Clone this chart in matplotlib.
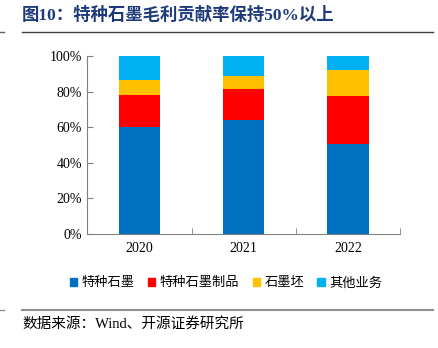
import numpy as np
import matplotlib.pyplot as plt
from matplotlib.lines import Line2D

plt.rcParams['font.family'] = ['Liberation Serif', 'Noto Sans CJK SC']

years = ['2020', '2021', '2022']
series_names = ['特种石墨', '特种石墨制品', '石墨坯', '其他业务']
special_graphite = [60.0, 64.0, 50.5]
graphite_products = [18.2, 17.8, 27.2]
graphite_blank = [8.6, 7.1, 14.4]
other_business = [13.2, 11.1, 7.9]
colors = ['#0070C0', '#FF0000', '#FFC000', '#00B0F0']

fig = plt.figure(figsize=(4.39, 3.48), dpi=100)
ax = fig.add_axes([0.199, 0.3276, 0.712, 0.5104])

x = np.arange(len(years))
bottom = np.zeros(len(years))
for vals, c, name in zip([special_graphite, graphite_products, graphite_blank, other_business],
                         colors, series_names):
    ax.bar(x, vals, 0.4, bottom=bottom, color=c, label=name)
    bottom += np.array(vals)

ax.set_xlim(-0.5, 2.5)
ax.set_ylim(0, 100)
ax.set_yticks(np.arange(0, 101, 20))
ax.set_yticklabels([f'{v}%' for v in range(0, 101, 20)], fontsize=10)
ax.set_xticks(x)
ax.set_xticklabels(years, fontsize=10)
ax.tick_params(axis='x', length=0, pad=6)
ax.tick_params(axis='y', direction='in', length=4, color='#808080', pad=4)
# ticks between categories
ax.set_xticks([-0.5, 0.5, 1.5, 2.5], minor=True)
ax.tick_params(axis='x', which='minor', direction='in', length=4, color='#808080')
for s in ['top', 'right']:
    ax.spines[s].set_visible(False)
for s in ['left', 'bottom']:
    ax.spines[s].set_color('#808080')
    ax.spines[s].set_linewidth(0.8)

handles = [plt.Rectangle((0, 0), 1, 1, color=c) for c in colors]
fig.legend(handles, series_names, loc='center', bbox_to_anchor=(0.515, 0.187), ncol=4,
           frameon=False, handlelength=0.55, handleheight=0.55,
           handletextpad=0.35, columnspacing=1.0, prop={'family': 'Noto Sans CJK SC', 'size': 9.5})

fig.text(0.05, 0.955, '图10：特种石墨毛利贡献率保持50%以上', fontsize=12.5, fontweight='bold',
         color='#1F3A7A', va='center', family=['Liberation Serif', 'Noto Sans CJK SC'])
fig.add_artist(Line2D([0.05, 0.987], [0.907, 0.907], color='#404040', lw=1.0))
fig.add_artist(Line2D([0.0, 0.008], [0.907, 0.907], color='#606060', lw=1.0))
fig.add_artist(Line2D([0.05, 0.987], [0.11, 0.11], color='#909090', lw=1.5))
fig.add_artist(Line2D([0.0, 0.008], [0.11, 0.11], color='#909090', lw=1.0))
fig.text(0.05, 0.07, '数据来源：Wind、开源证券研究所', fontsize=10.5, va='center',
         family=['Liberation Serif', 'Noto Sans CJK SC'])

fig.savefig('out.png', dpi=100)
